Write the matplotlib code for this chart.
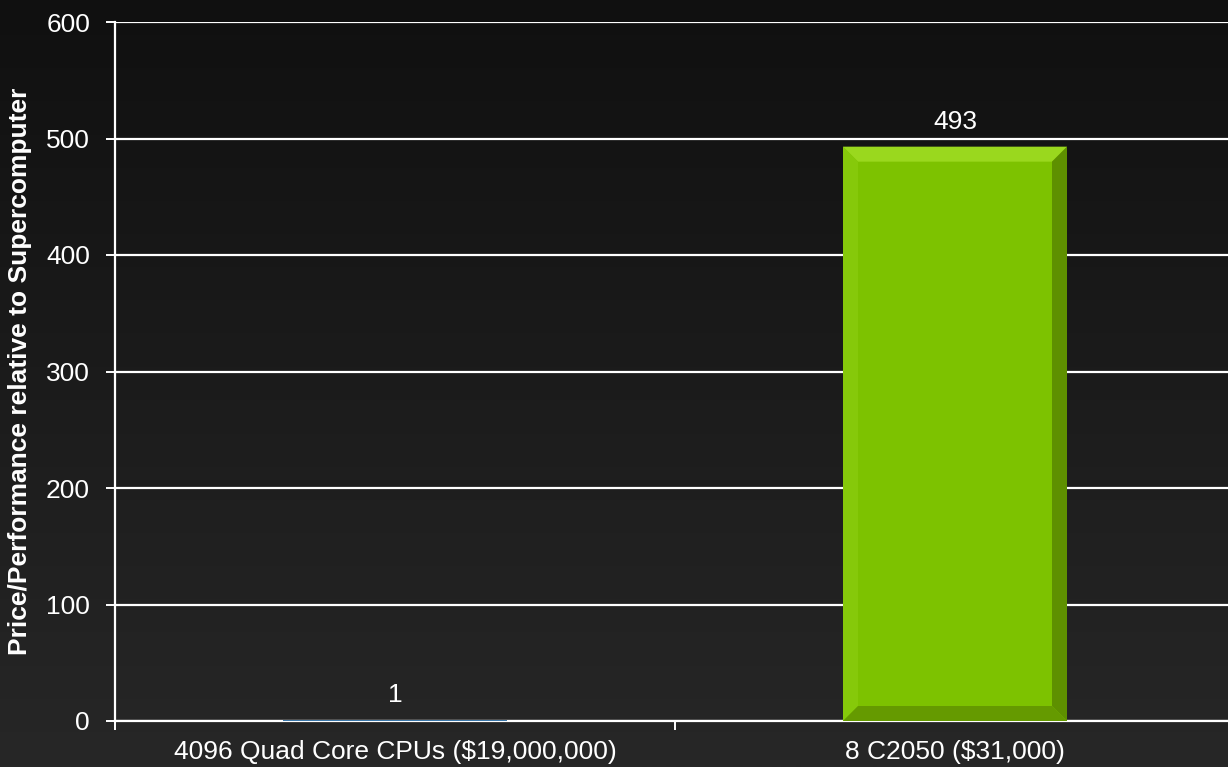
import numpy as np
import matplotlib
matplotlib.use("Agg")
import matplotlib.pyplot as plt
from matplotlib.patches import Polygon

categories = ["4096 Quad Core CPUs ($19,000,000)", "8 C2050 ($31,000)"]
values = [1, 493]
bar_colors = ["#3d79ab", "#7dc200"]
y_label = "Price/Performance relative to Supercomputer"
y_ticks = [0, 100, 200, 300, 400, 500, 600]

plt.rcParams['font.family'] = ['Liberation Sans', 'DejaVu Sans']
FS = 19

fig = plt.figure(figsize=(12.28, 7.67), dpi=100)

# background gradient
bg = fig.add_axes([0, 0, 1, 1], zorder=-10)
grad = np.linspace(0, 1, 256).reshape(-1, 1)
top = np.array([0x10, 0x10, 0x10]) / 255
bot = np.array([0x27, 0x27, 0x27]) / 255
img = top + (bot - top) * grad[:, :, None]
bg.imshow(img, aspect='auto', extent=[0, 1, 0, 1], origin='upper')
bg.axis('off')

ax = fig.add_axes([115/1228, 1 - 721/767, 1 - 115/1228, (721 - 22)/767])
ax.set_facecolor('none')

x = np.arange(len(categories))
width = 0.4
bars = ax.bar(x, values, width=width, color=bar_colors, zorder=3)

ax.set_xlim(-0.5, 1.4875)
ax.set_ylim(0, 600)
ax.set_yticks(y_ticks)
ax.yaxis.grid(True, color='white', linewidth=1.6, zorder=1)
ax.set_axisbelow(True)

ax.set_xticks(x)
ax.set_xticklabels(categories)
ax.set_xticks([-0.5, 0.5], minor=True)
ax.tick_params(axis='x', which='major', length=0, pad=13.5, labelsize=FS, colors='white')
ax.tick_params(axis='x', which='minor', length=6.5, width=1.4, color='white')
ax.tick_params(axis='y', length=6.5, width=1.4, color='white', labelsize=FS, labelcolor='white', pad=11.5)

for s in ['top', 'right']:
    ax.spines[s].set_visible(False)
for s in ['left', 'bottom']:
    ax.spines[s].set_color('white')
    ax.spines[s].set_linewidth(1.6)

ax.set_ylabel(y_label, color='white', fontsize=FS, fontweight='bold', labelpad=10)

# bevel for larger bar
fig.canvas.draw()
for b, c in zip(bars, bar_colors):
    x0, y0 = ax.transData.transform((b.get_x(), 0))
    x1, y1 = ax.transData.transform((b.get_x() + b.get_width(), b.get_height()))
    bev = 15
    if (y1 - y0) < 3 * bev:
        continue
    inv = ax.transData.inverted()
    def P(px, py):
        return inv.transform((px, py))
    polys = [
        ([P(x0, y1), P(x1, y1), P(x1 - bev, y1 - bev), P(x0 + bev, y1 - bev)], "#9ad81e"),
        ([P(x0, y0), P(x0 + bev, y0 + bev), P(x0 + bev, y1 - bev), P(x0, y1)], "#86c90a"),
        ([P(x1, y0), P(x1, y1), P(x1 - bev, y1 - bev), P(x1 - bev, y0 + bev)], "#5e9000"),
        ([P(x0, y0), P(x1, y0), P(x1 - bev, y0 + bev), P(x0 + bev, y0 + bev)], "#659a00"),
    ]
    for pts, col in polys:
        ax.add_patch(Polygon(pts, closed=True, facecolor=col, edgecolor='none', zorder=4))

for xi, v in zip(x, values):
    ax.annotate(str(v), (xi, v), xytext=(0, 13), textcoords='offset points',
                ha='center', va='baseline', color='white', fontsize=FS)

fig.savefig("out.png", dpi=100)
